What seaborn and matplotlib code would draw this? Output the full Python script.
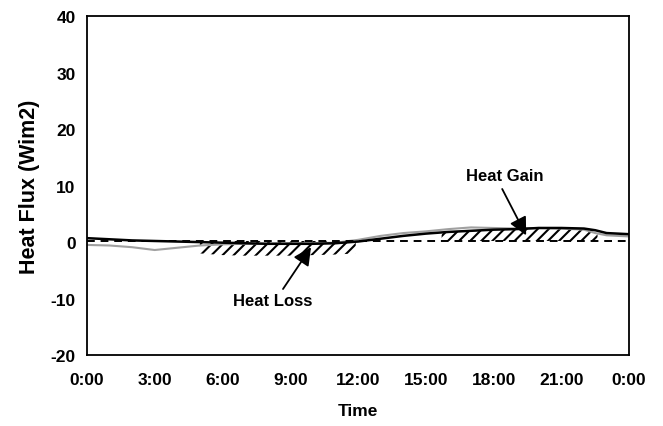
import matplotlib
matplotlib.use("Agg")
import matplotlib.pyplot as plt
import seaborn as sns
import numpy as np
import pandas as pd

hours = [0, 1, 2, 3, 4, 5, 6, 7, 8, 9, 10, 11, 12, 13, 14, 15, 16, 17, 18, 19, 20, 21, 22, 22.5, 23, 24]
measured = [0.7, 0.5, 0.3, 0.2, 0.1, 0.0, -0.1, -0.2, -0.3, -0.3, -0.3, -0.2, 0.1, 0.6, 1.1, 1.5, 1.8, 2.0, 2.2, 2.3, 2.5, 2.5, 2.4, 2.1, 1.6, 1.4]
model = [-0.5, -0.6, -0.9, -1.4, -1.0, -0.6, -0.4, -0.3, -0.3, -0.2, -0.2, -0.1, 0.4, 1.1, 1.6, 1.9, 2.3, 2.6, 2.5, 2.4, 2.5, 2.4, 2.2, 1.6, 1.2, 1.0]
baseline = [0.2] * len(hours)
xtick_labels = ["0:00", "3:00", "6:00", "9:00", "12:00", "15:00", "18:00", "21:00", "0:00"]
loss_hours = [5.0, 6.0, 7.0, 8.0, 9.0, 10.0, 11.0, 11.9]
loss_low = [-2.0, -2.3, -2.4, -2.4, -2.4, -2.3, -2.2, -2.0]
gain_span = (15.7, 22.6)

df = pd.DataFrame({"hour": hours, "measured": measured, "model": model, "baseline": baseline})

sns.set_style("white")
plt.rcParams['font.family'] = ['Liberation Sans', 'DejaVu Sans']
plt.rcParams['font.weight'] = 'bold'
plt.rcParams['axes.unicode_minus'] = False
plt.rcParams['hatch.linewidth'] = 1.5
for k in ['text.color', 'axes.labelcolor', 'xtick.color', 'ytick.color']:
    plt.rcParams[k] = 'black'

fig = plt.figure(figsize=(6.63, 4.27), dpi=100)
ax = fig.add_axes([0.131, 0.166, 0.818, 0.794])

h = np.array(hours, dtype=float)
m = np.array(measured)
b = np.array(baseline)

# heat loss hatched band
lh = np.array(loss_hours)
ax.fill_between(lh, np.interp(lh, h, b), np.array(loss_low), facecolor="none",
                edgecolor="black", hatch="///", linewidth=0)
# heat gain hatched band
xs = np.linspace(gain_span[0], gain_span[1], 60)
ax.fill_between(xs, np.interp(xs, h, m), np.interp(xs, h, b), facecolor="none",
                edgecolor="black", hatch="///", linewidth=0)

sns.lineplot(data=df, x="hour", y="model", ax=ax, color="#a0a0a0", linewidth=1.5)
sns.lineplot(data=df, x="hour", y="measured", ax=ax, color="black", linewidth=1.8)
sns.lineplot(data=df, x="hour", y="baseline", ax=ax, color="black", linewidth=1.4, linestyle=(0, (4, 3)))

ax.set_xlim(0, 24)
ax.set_ylim(-20, 40)
ax.set_xticks(np.arange(0, 25, 3))
ax.set_xticklabels(xtick_labels)
ax.set_yticks(np.arange(-20, 41, 10))
ax.tick_params(axis="both", direction="in", length=4, width=1, labelsize=12.5, colors="black")
ax.tick_params(axis="x", pad=12)
ax.tick_params(axis="y", pad=8)
for lbl in ax.get_xticklabels() + ax.get_yticklabels():
    lbl.set_fontweight("bold")
for s in ax.spines.values():
    s.set_color("black")
    s.set_linewidth(1.3)

ax.set_xlabel("Time", fontsize=12.5, fontweight="bold", labelpad=12, color="black")
ax.set_ylabel("Heat Flux (Wim2)", fontsize=15.5, fontweight="bold", labelpad=8, color="black")

arrow = dict(arrowstyle="-|>,head_length=0.9,head_width=0.45", color="black", lw=1.3,
             shrinkA=0, shrinkB=0, mutation_scale=12)
ax.text(8.24, -10.4, "Heat Loss", fontsize=12, fontweight="bold", ha="center", va="center", color="black")
ax.annotate("", xy=(9.92, -0.9), xytext=(8.68, -8.3), arrowprops=arrow)
ax.text(18.5, 11.7, "Heat Gain", fontsize=12, fontweight="bold", ha="center", va="center", color="black")
ax.annotate("", xy=(19.44, 1.2), xytext=(18.38, 9.4), arrowprops=arrow)

fig.savefig("out.png", dpi=100)
